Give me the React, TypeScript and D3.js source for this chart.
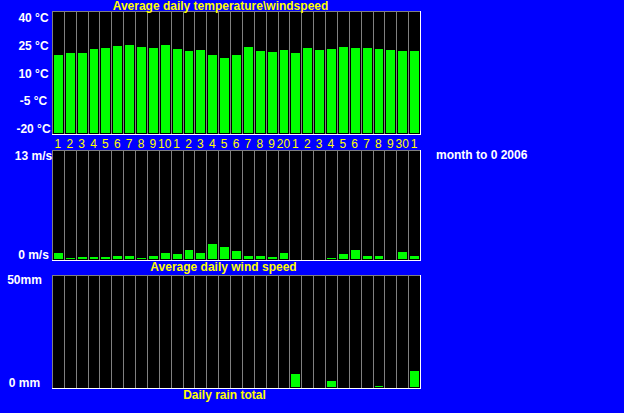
import { useEffect, useRef } from 'react';
import * as d3 from 'd3';

const days = [
  1, 2, 3, 4, 5, 6, 7, 8, 9, 10, 11, 12, 13, 14, 15, 16, 17, 18, 19, 20, 21, 22, 23, 24, 25, 26, 27, 28, 29,
  30, 31,
];
const dayLabels = [
  '1', '2', '3', '4', '5', '6', '7', '8', '9', '10', '1', '2', '3', '4', '5', '6', '7', '8', '9', '20', '1',
  '2', '3', '4', '5', '6', '7', '8', '9', '30', '1',
];
const temperature = [
  18.7, 19.7, 19.7, 21.6, 22.1, 23.1, 23.6, 22.6, 22.1, 23.6, 21.6, 20.6, 21.1, 18.7, 17.2, 18.7, 22.6, 20.6,
  20.1, 21.1, 19.7, 22.1, 21.1, 21.6, 22.6, 22.1, 22.1, 21.6, 21.1, 20.6, 20.6,
];
const windSpeed = [
  0.87, 0.27, 0.39, 0.39, 0.39, 0.51, 0.51, 0.27, 0.51, 0.87, 0.75, 1.22, 0.87, 1.94, 1.58, 1.1, 0.51, 0.51,
  0.39, 0.87, 0.15, 0.15, 0, 0.27, 0.75, 1.22, 0.51, 0.51, 0.15, 0.99, 0.51,
];
const rain = [
  0, 0, 0, 0, 0, 0, 0, 0, 0, 0, 0, 0, 0, 0, 0, 0, 0, 0, 0, 0, 6.0, 0, 0, 2.9, 0, 0, 0, 1.1, 0, 0, 7.4,
];
const tempTicks = ['40 °C', '25 °C', '10 °C', '-5 °C', '-20 °C'];
const windTicks = ['13 m/s', '0 m/s'];
const rainTicks = ['50mm', '0 mm'];

const BLUE = '#0000ff';
const GREEN = '#00ff00';
const YELLOW = '#ffff00';
const GRID = '#808080';
const FONT = '"Liberation Sans", Arial, sans-serif';

export default function App() {
  const svgRef = useRef<SVGSVGElement>(null);

  useEffect(() => {
    document.body.style.margin = '0';
    if (!svgRef.current) {
      return;
    }
    const width = 624;
    const height = 413;
    const left = 52;
    const right = 420;

    const svg = d3.select(svgRef.current);
    svg.selectAll('*').remove();
    svg.attr('width', width).attr('height', height);

    svg.append('rect').attr('width', width).attr('height', height).attr('fill', BLUE);

    const x = d3
      .scaleBand<number>()
      .domain(days)
      .range([left, right]);

    const panels = [
      {
        top: 11,
        bottom: 134,
        domain: [-20, 40],
        values: temperature,
        ticks: tempTicks,
        tickRange: [17.5, 129],
        tickX: 33.5,
      },
      {
        top: 150,
        bottom: 260,
        domain: [0, 13],
        values: windSpeed,
        ticks: windTicks,
        tickRange: [156, 255],
        tickX: 33.5,
      },
      {
        top: 275,
        bottom: 388,
        domain: [0, 50],
        values: rain,
        ticks: rainTicks,
        tickRange: [280, 383],
        tickX: 24.5,
      },
    ];

    panels.forEach((p) => {
      const y = d3.scaleLinear().domain(p.domain).range([p.bottom, p.top]);
      const g = svg.append('g').attr('shape-rendering', 'crispEdges');

      g.append('rect')
        .attr('x', left)
        .attr('y', p.top)
        .attr('width', right - left)
        .attr('height', p.bottom - p.top)
        .attr('fill', 'black');

      // column separators
      g.selectAll('line.grid')
        .data(days)
        .enter()
        .append('line')
        .attr('class', 'grid')
        .attr('x1', (d) => Math.round(x(d)!) + 0.5)
        .attr('x2', (d) => Math.round(x(d)!) + 0.5)
        .attr('y1', p.top)
        .attr('y2', p.bottom)
        .attr('stroke', GRID);

      g.append('line')
        .attr('x1', left)
        .attr('x2', right)
        .attr('y1', p.top + 0.5)
        .attr('y2', p.top + 0.5)
        .attr('stroke', GRID);

      g.selectAll('rect.bar')
        .data(p.values)
        .enter()
        .append('rect')
        .attr('class', 'bar')
        .attr('x', (_d, i) => Math.round(x(days[i])!) + 2)
        .attr('width', (_d, i) => Math.round(x(days[i])! + x.bandwidth()) - Math.round(x(days[i])!) - 3)
        .attr('y', (d) => Math.round(y(d)))
        .attr('height', (d) => Math.max(0, p.bottom - 1 - Math.round(y(d))))
        .attr('fill', GREEN);

      // sunken frame: white bottom and right edges
      g.append('line')
        .attr('x1', left)
        .attr('x2', right + 1)
        .attr('y1', p.bottom + 0.5)
        .attr('y2', p.bottom + 0.5)
        .attr('stroke', 'white');
      g.append('line')
        .attr('x1', right + 0.5)
        .attr('x2', right + 0.5)
        .attr('y1', p.top)
        .attr('y2', p.bottom + 1)
        .attr('stroke', 'white');

      const ty = d3.scalePoint<string>().domain(p.ticks).range(p.tickRange as [number, number]);
      svg
        .append('g')
        .selectAll('text')
        .data(p.ticks)
        .enter()
        .append('text')
        .attr('x', p.tickX)
        .attr('y', (d) => ty(d)!)
        .attr('dy', '0.36em')
        .attr('text-anchor', 'middle')
        .attr('fill', 'white')
        .style('font', `bold 12px ${FONT}`)
        .text((d) => d);
    });

    svg
      .append('g')
      .selectAll('text')
      .data(days)
      .enter()
      .append('text')
      .attr('x', (d) => x(d)! + x.bandwidth() / 2)
      .attr('y', 148)
      .attr('text-anchor', 'middle')
      .attr('fill', YELLOW)
      .style('font', `12px ${FONT}`)
      .text((_d, i) => dayLabels[i]);

    const titles = [
      { text: 'Average daily temperature\\windspeed', x: 220.5, y: 10, color: YELLOW },
      { text: 'Average daily wind speed', x: 223.5, y: 271, color: YELLOW },
      { text: 'Daily rain total', x: 224.5, y: 399, color: YELLOW },
      { text: 'month to 0 2006', x: 436, y: 159, color: 'white', anchor: 'start' },
    ];
    svg
      .append('g')
      .selectAll('text')
      .data(titles)
      .enter()
      .append('text')
      .attr('x', (d) => d.x)
      .attr('y', (d) => d.y)
      .attr('text-anchor', (d) => d.anchor ?? 'middle')
      .attr('fill', (d) => d.color)
      .style('font', `bold 12px ${FONT}`)
      .text((d) => d.text);
  }, []);

  return <svg ref={svgRef} style={{ display: 'block' }} />;
}
